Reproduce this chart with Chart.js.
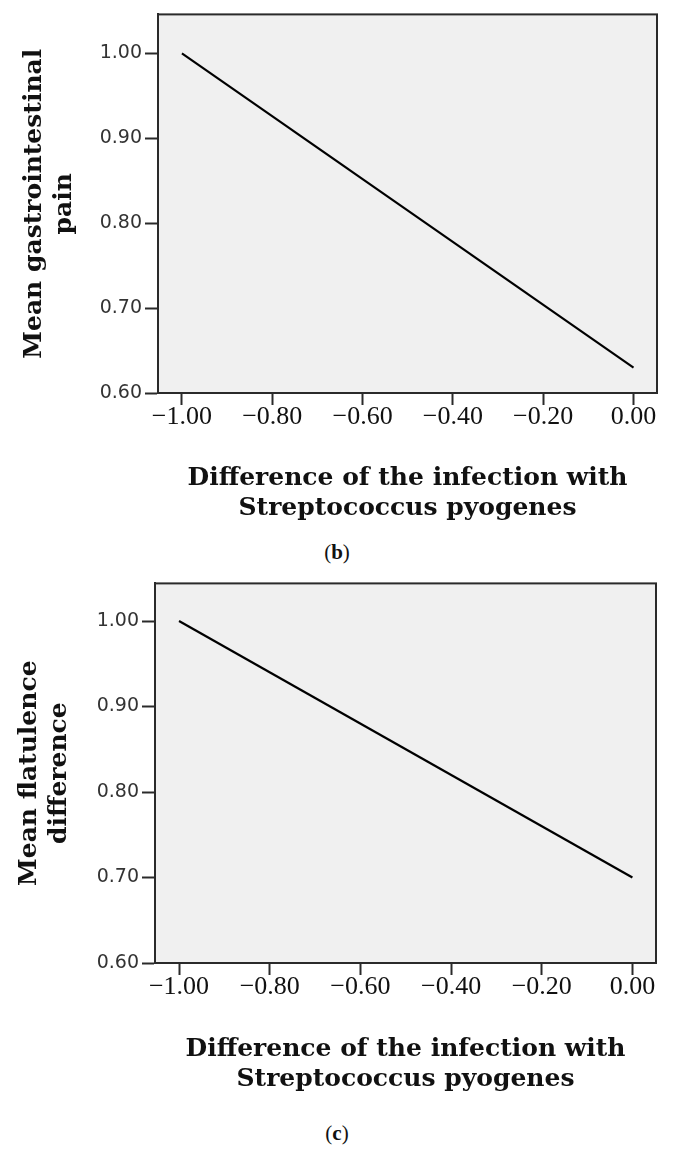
<!DOCTYPE html>
<html>
<head>
<meta charset="utf-8">
<title>Streptococcus pyogenes</title>
<script src="https://cdn.jsdelivr.net/npm/chart.js@4.4.1/dist/chart.umd.min.js"></script>
<style>
    body { margin: 0; background: #fff; width: 674px; height: 1154px; position: relative; }
    canvas { position: absolute; left: 0; }
    .caption {
        position: absolute; left: 0; width: 674px; text-align: center;
        font: 21px "Liberation Serif", serif; line-height: 24px; color: #111;
    }
</style>
</head>
<body>
<canvas id="chartB" width="674" height="530" style="top:0"></canvas>
<div class="caption" style="top:540px">(<b>b</b>)</div>
<canvas id="chartC" width="674" height="530" style="top:569px"></canvas>
<div class="caption" style="top:1121px">(<b>c</b>)</div>

<script>
const xValues = [-1.00, 0.00];
const painValues = [1.00, 0.63];
const flatulenceValues = [1.00, 0.70];
const xTicks = [-1.00, -0.80, -0.60, -0.40, -0.20, 0.00];
const yTicks = [0.60, 0.70, 0.80, 0.90, 1.00];
const xTitle = ['Difference of the infection with', 'Streptococcus pyogenes'];

// grey plot background + box around it
const framePlugin = {
    id: 'frame',
    beforeDraw(chart) {
        const { ctx, chartArea: a } = chart;
        ctx.save();
        ctx.fillStyle = '#f0f0f0';
        ctx.fillRect(a.left, a.top, a.right - a.left, a.bottom - a.top);
        ctx.restore();
    },
    afterDraw(chart) {
        const { ctx, chartArea: a } = chart;
        ctx.save();
        ctx.strokeStyle = '#2a2a2a';
        ctx.lineWidth = 2;
        ctx.strokeRect(a.left, a.top, a.right - a.left, a.bottom - a.top);
        ctx.restore();
    }
};

function fmt(v) {
    return v.toFixed(2).replace('-', '\u2212');
}

function buildChart(id, values, yTitle, cfg) {
    const canvas = document.getElementById(id);
    if (!canvas) return;
    new Chart(canvas, {
        type: 'line',
        data: {
            datasets: [{
                data: xValues.map((x, i) => ({ x: x, y: values[i] })),
                borderColor: '#000',
                borderWidth: 2.2,
                pointRadius: 0,
                fill: false,
                tension: 0
            }]
        },
        options: {
            responsive: false,
            animation: false,
            layout: { padding: { top: cfg.top, right: cfg.right, left: 0, bottom: 0 } },
            plugins: { legend: { display: false }, tooltip: { enabled: false } },
            scales: {
                x: {
                    type: 'linear',
                    min: -1.053,
                    max: 0.052,
                    afterBuildTicks: s => { s.ticks = xTicks.map(v => ({ value: v })); },
                    afterFit: s => { s.height = cfg.xHeight; },
                    border: { display: true, color: '#2a2a2a', width: 2 },
                    grid: { drawOnChartArea: false, drawTicks: true, tickLength: 12, tickColor: '#2a2a2a', tickWidth: 2 },
                    ticks: {
                        padding: -1,
                        color: '#111',
                        font: { family: '"Liberation Serif", serif', size: 26, lineHeight: 1 },
                        callback: v => fmt(v)
                    },
                    title: {
                        display: true,
                        text: xTitle,
                        color: '#111',
                        padding: { top: 0, bottom: cfg.xTitlePad },
                        font: { family: '"DejaVu Serif", serif', size: 25, weight: 'bold', lineHeight: 1.2 }
                    }
                },
                y: {
                    min: 0.60,
                    max: cfg.yMax,
                    afterBuildTicks: s => { s.ticks = yTicks.map(v => ({ value: v })); },
                    afterFit: s => { s.width = cfg.yWidth; },
                    border: { display: true, color: '#2a2a2a', width: 2 },
                    grid: { drawOnChartArea: false, drawTicks: true, tickLength: 13, tickColor: '#2a2a2a', tickWidth: 2 },
                    ticks: {
                        padding: 3,
                        color: '#333',
                        font: { family: '"DejaVu Sans", sans-serif', size: 19 },
                        callback: v => fmt(v)
                    },
                    title: {
                        display: true,
                        text: yTitle,
                        color: '#111',
                        padding: { top: cfg.yTitlePad, bottom: 0 },
                        font: { family: '"DejaVu Serif", serif', size: 25, weight: 'bold', lineHeight: 1.2 }
                    }
                }
            }
        },
        plugins: [framePlugin]
    });
}

document.addEventListener('DOMContentLoaded', () => {
    buildChart('chartB', painValues, ['Mean gastrointestinal', 'pain'],
        { top: 13, right: 17, xHeight: 137, yWidth: 158, yMax: 1.046, xTitlePad: 7, yTitlePad: 19 });
    buildChart('chartC', flatulenceValues, ['Mean flatulence', 'difference'],
        { top: 13, right: 18, xHeight: 136, yWidth: 155, yMax: 1.044, xTitlePad: 5, yTitlePad: 14 });
});
</script>
</body>
</html>
